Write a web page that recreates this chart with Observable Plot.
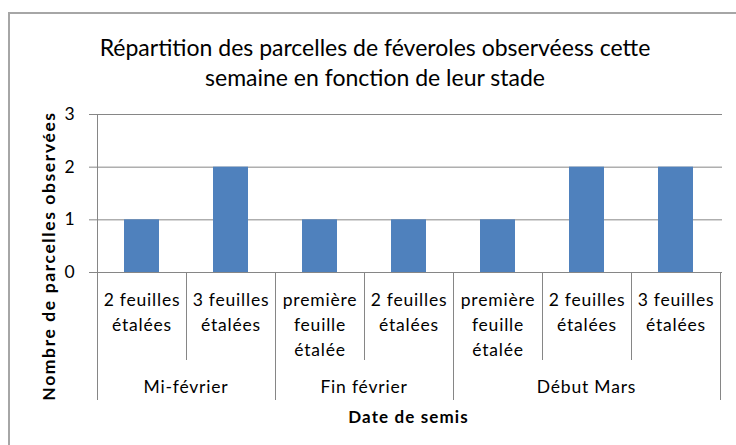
<!DOCTYPE html>
<html><head><meta charset="utf-8">
<script src="https://cdn.jsdelivr.net/npm/d3@7"></script>
<script src="https://cdn.jsdelivr.net/npm/@observablehq/plot@0.6"></script>
<style>
body{margin:0;background:#fff;}
#wrap{position:relative;width:736px;height:445px;overflow:hidden;font-family:Lato,sans-serif;}
#frame{position:absolute;left:8px;top:12px;width:800px;height:500px;border:2px solid #a6a6a6;box-sizing:border-box;}
#title{position:absolute;left:0;top:32px;width:750px;text-align:center;font-size:23px;line-height:30px;color:#000;}
#chart{position:absolute;left:0;top:0;}
</style></head>
<body><div id="wrap"><div id="frame"></div><div id="title">Répartition des parcelles de féveroles observéess cette<br>semaine en fonction de leur stade</div><div id="chart"></div></div>
<script>
const groups = ["Mi-février","Mi-février","Fin février","Fin février","Début Mars","Début Mars","Début Mars"];
const stades = ["2 feuilles\nétalées","3 feuilles\nétalées","première\nfeuille\nétalée","2 feuilles\nétalées","première\nfeuille\nétalée","2 feuilles\nétalées","3 feuilles\nétalées"];
const values = [1,2,1,1,1,2,2];
const yTicks = [0,1,2,3];
const xTitle = "Date de semis";
const yTitle = "Nombre de parcelles observées";

const data = values.map((v,i)=>({key:i, group:groups[i], stade:stades[i], value:v}));
const FONT = "Lato, sans-serif";
const GRID = "#868686";

function categoryAxis(index, scales, values, dims) {
  const x = scales.x, y = scales.y;
  const bw = x.bandwidth();
  const y0 = y(0);
  const g = d3.create("svg:g");
  const n = data.length;
  for (let i = 0; i <= n; i++) {
    const xp = i < n ? x(i) : x(n-1) + bw;
    const isGroup = i === 0 || i === n || groups[i] !== groups[i-1];
    const top = i === 0 ? y(3) : y0;
    g.append("line").attr("x1", xp+0.5).attr("x2", xp+0.5).attr("y1", top).attr("y2", y0 + (isGroup ? 128 : 88))
      .attr("stroke", GRID).attr("stroke-width", 1);
  }
  const gs = d3.groups(data, d => d.group);
  for (const [name, arr] of gs) {
    const x1 = x(arr[0].key), x2 = x(arr[arr.length-1].key) + bw;
    g.append("text").attr("x", (x1+x2)/2).attr("y", y0 + 115).attr("dy", "0.35em")
      .attr("text-anchor", "middle").attr("font-size", 17.5).attr("font-family", FONT).attr("fill", "#000").text(name);
  }
  const xmid = (dims.marginLeft + dims.width - dims.marginRight) / 2;
  g.append("text").attr("x", xmid).attr("y", y0 + 145).attr("dy", "0.35em")
    .attr("text-anchor", "middle").attr("font-size", 17).attr("font-weight", "bold")
    .style("letter-spacing", "1.1px").attr("font-family", FONT).attr("fill", "#000").text(xTitle);
  g.append("text").attr("transform", `translate(${dims.marginLeft - 46},${y0 - 16}) rotate(-90)`).attr("dy", "0.35em")
    .attr("text-anchor", "middle").attr("font-size", 17.5).attr("font-weight", "bold")
    .style("letter-spacing", "1.6px").attr("font-family", FONT).attr("fill", "#000").text(yTitle);
  return g.node();
}

const plot = Plot.plot({
  width: 736, height: 445,
  marginLeft: 95, marginRight: 14, marginTop: 114, marginBottom: 173,
  style: {fontFamily: FONT, fontSize: "17.5px", color: "#000", background: "transparent", overflow: "visible", letterSpacing: "0.8px"},
  x: {type: "band", domain: data.map(d => d.key), paddingInner: 0, paddingOuter: 0, axis: null},
  y: {domain: [0, 3], axis: null},
  marks: [
    Plot.ruleY(yTicks, {stroke: GRID, strokeWidth: 1}),
    Plot.barY(data, {x: "key", y: "value", fill: "#4f81bd", insetLeft: 27, insetRight: 27}),
    Plot.axisY({ticks: yTicks, label: null, tickSize: 6, tickPadding: 14, fontSize: 17.5, stroke: GRID, tickFormat: d => String(d)}),
    Plot.text(data, {x: "key", text: "stade", frameAnchor: "bottom", lineAnchor: "top", dy: 16, lineHeight: 1.43, fontSize: 17.5, fill: "#000"}),
    categoryAxis
  ]
});
document.getElementById("chart").appendChild(plot);
</script>
</body></html>
